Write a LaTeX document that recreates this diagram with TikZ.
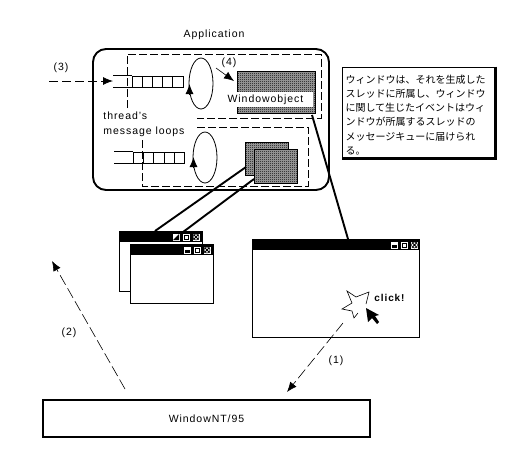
\documentclass[tikz,border=0pt]{standalone}
\usepackage{fontspec}
\setmainfont[LetterSpace=9]{Liberation Sans}
\newfontfamily\cjk{Noto Sans CJK JP}
\usetikzlibrary{arrows.meta,shapes.geometric,patterns}

\pgfdeclarepatternformonly{dither}{\pgfpointorigin}{\pgfqpoint{2pt}{2pt}}{\pgfqpoint{2pt}{2pt}}{
  \pgfpathrectangle{\pgfpointorigin}{\pgfqpoint{1pt}{1pt}}
  \pgfpathrectangle{\pgfqpoint{1pt}{1pt}}{\pgfqpoint{1pt}{1pt}}
  \pgfusepath{fill}
}

\newcommand{\winbuttons}[2]{
  \begin{scope}[shift={(#1,#2)}]
    \fill[white] (-3.5,-3.5) rectangle (3.5,3.5);
    \fill (-2.5,0) rectangle (2.5,2.5);
    \fill[white] (6.5,-3.5) rectangle (13.5,3.5);
    \draw (8,-2) rectangle (12,2);
    \fill[white] (16.5,-3.5) rectangle (23.5,3.5);
    \draw (17.5,-2.5) -- (22.5,2.5) (17.5,2.5) -- (22.5,-2.5);
    \draw[line width=0.5pt] (20,0) circle (3pt);
  \end{scope}
}

\begin{document}
\begin{tikzpicture}[x=1pt,y=-1pt,line width=0.8pt]
      \tikzset { appbox/.style = { draw,line width=1.9pt,rounded corners=13pt,minimum width=236pt,minimum height=141pt,inner sep=0 } }
      \tikzset { cell/.style = { draw,minimum width=10.2pt,minimum height=11pt,inner sep=0 } }
      \tikzset { loopring/.style = { shape=ellipse,draw,minimum width=24pt,minimum height=51pt,inner sep=0 } }
      \tikzset { shaded/.style = { draw,preaction={fill=black!35},pattern=dither,inner sep=0 } }
      \tikzset { window/.style = { draw,fill=white,inner sep=0 } }
      \tikzset { titlebar/.style = { fill=black,inner sep=0,minimum height=11pt } }
      \tikzset { edge/.style = { -{Latex[length=10pt,width=8pt]} } }
      \tikzset { boxdash/.style = { dash pattern=on 8pt off 3pt } }
      \tikzset { longdash/.style = { line width=0.6pt,dash pattern=on 11pt off 4pt } }
      \tikzset { link/.style = { line width=1.9pt } }
      \tikzset { caption/.style = { font=\fontsize{10.5}{12}\selectfont,inner sep=0 } }

      \useasboundingbox (0,0) rectangle (514,466);

      \node[appbox] (app) at (211,119.5) {};
      \node[caption] (apptitle) at (214,35) {Application};

      % thread areas
      \draw[boxdash] (127,108) -- (127,54) -- (321,54) -- (321,118) -- (197,118);
      \draw[boxdash] (197,127) -- (308,127) -- (308,186) -- (142,186) -- (142,138);

      % message queues
      \foreach \i in {0,...,4} \node[cell] (qa\i) at ({137.1+10.2*\i},81.5) {};
      \foreach \i in {0,...,4} \node[cell] (qb\i) at ({138.1+10.4*\i},157.5) {};
      \draw (qa0.north west) -- +(-19,0);
      \draw (qa0.south west) -- +(-19,0);
      \draw (qb0.north west) -- +(-19,0);
      \draw (qb0.south west) -- +(-19,0);

      \node[loopring] (loopa) at (201,83.5) {};
      \node[loopring] (loopb) at (205,157.5) {};
      \coordinate (loopafoot) at (189.5,94);
      \coordinate (loopahead) at (189.5,84);
      \coordinate (loopbfoot) at (193.5,168);
      \coordinate (loopbhead) at (193.5,157);
      \draw[edge] (loopafoot) to (loopahead);
      \draw[edge] (loopbfoot) to (loopbhead);

      % window objects
      \node[shaded,minimum width=78pt,minimum height=42pt] (winobj) at (276,92) {};
      \node[fill=white,inner sep=0,minimum width=95pt,minimum height=15pt,caption] (winlabel) at (265.5,99.5) {Windowobject};
      \node[shaded,minimum width=43pt,minimum height=33pt] (objback) at (266.5,158.5) {};
      \node[shaded,minimum width=43pt,minimum height=34pt] (objfront) at (275.5,166) {};

      \node[caption,anchor=west] (threads) at (103,116) {thread's};
      \node[caption,anchor=west] (loops) at (103,132) {message loops};

      % links to the screen
      \coordinate (backtop) at (155,231);
      \coordinate (fronttop) at (167,244);
      \coordinate (bigtop) at (348,239);
      \coordinate (objcorner) at (312,115);
      \coordinate (backedge) at (246,167);
      \coordinate (frontedge) at (254,179);
      \draw[link] (objcorner) to (bigtop);
      \draw[link] (backedge) to (backtop);
      \draw[link] (frontedge) to (fronttop);

      % screen windows
      \node[window,minimum width=83pt,minimum height=60pt] (winback) at (160.5,261) {};
      \node[titlebar,minimum width=83pt] (barback) at (160.5,236.5) {};
      \winbuttons{176}{237}
      \fill[white] (172.5,233.5) rectangle (179.5,240.5);
      \fill (179,234) -- (179,240) -- (173,240) -- cycle;
      \node[window,minimum width=83pt,minimum height=59pt] (winfront) at (171.5,273.5) {};
      \node[titlebar,minimum width=83pt] (barfront) at (171.5,249.5) {};
      \winbuttons{187}{250}
      \node[window,minimum width=167pt,minimum height=98pt] (winbig) at (335.5,288) {};
      \node[titlebar,minimum width=167pt] (barbig) at (335.5,244.5) {};
      \winbuttons{394.5}{245}

      % click mark
      \draw[line width=0.6pt] (366,304) -- (369,292) -- (356,297) -- (347,291) -- (352,303) -- (342,309) -- (352,311) -- (354,318) -- (358,313);
      \fill (366,308) -- (368,322) -- (372,318) -- (377,324) -- (379,322) -- (375,316) -- (379,315) -- cycle;
      \node[font=\bfseries\fontsize{10}{12}\selectfont,inner sep=0] (click) at (389.5,298) {click!};

      % system
      \node[draw,line width=1.9pt,fill=white,minimum width=327pt,minimum height=37pt,inner sep=0,font=\fontsize{10.5}{12}\selectfont] (system) at (206.5,418.5) {WindowNT/95};

      % events
      \coordinate (outside) at (49,81);
      \coordinate (queuemouth) at (113,81);
      \coordinate (loopout) at (216,68);
      \coordinate (objin) at (234,81);
      \coordinate (clickfoot) at (343,323);
      \coordinate (systemin) at (287,392);
      \coordinate (systemout) at (125,389);
      \coordinate (upleft) at (52,261);
      \draw[edge,dash pattern=on 9pt off 4pt] (outside) to (queuemouth);
      \draw[edge,line width=0.6pt] (loopout) to (objin);
      \draw[edge,longdash] (clickfoot) to (systemin);
      \draw[edge,longdash] (systemout) to (upleft);
      \node[caption] (stepc) at (61,68) {(3)};
      \node[caption] (stepd) at (229,63) {(4)};
      \node[caption] (stepa) at (336,361) {(1)};
      \node[caption] (stepb) at (69,333) {(2)};

      % note
      \node[window,minimum width=153pt,minimum height=91pt] (note) at (418.5,112.5) {};
      \draw[line width=2.5pt] (note.north east) -- (note.south east) -- (note.south west);
      \node[inner sep=0,text width=146pt,align=left,font=\cjk\fontsize{10}{14.2}\selectfont] (notetext) at (418.5,115) {ウィンドウは、それを生成した\\スレッドに所属し、ウィンドウ\\に関して生じたイベントはウィ\\ンドウが所属するスレッドの\\メッセージキューに届けられ\\る。};

    \end{tikzpicture}
\end{document}
